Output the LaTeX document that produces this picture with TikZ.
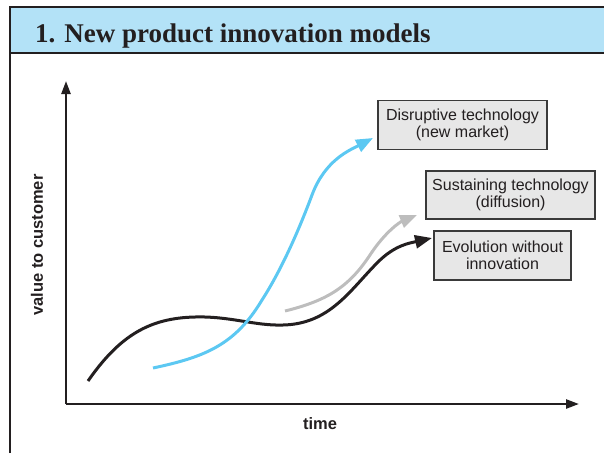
\documentclass[tikz,border=0pt]{standalone}
\usepackage{fontspec}
\setmainfont{Liberation Sans}
\newfontfamily\titlefont{Liberation Serif}
\usetikzlibrary{arrows.meta}
\definecolor{ink}{HTML}{231F20}
\definecolor{headblue}{HTML}{B3E2F7}
\definecolor{skyline}{HTML}{5CC8F2}
\definecolor{grayline}{HTML}{BDBDBD}
\definecolor{boxfill}{HTML}{E7E7E7}
\definecolor{boxline}{HTML}{3A3A3A}
\tikzset{
  labelbox/.style={draw=boxline, line width=1.1pt, fill=boxfill, inner sep=0pt, align=center,
    font=\fontsize{16}{17.5}\selectfont, text=ink},
  axisline/.style={draw=ink, line width=2.4pt, -{Triangle[length=13pt,width=9pt]}},
  curveline/.style={line width=3pt, -{Triangle[length=17pt,width=13pt]}},
  axislabel/.style={font=\bfseries\fontsize{16.5}{18}\selectfont, text=ink}
}
\begin{document}
\begin{tikzpicture}[x=1pt,y=-1pt]
\useasboundingbox (0,0) rectangle (604,453);
% frame and header
\fill[headblue] (10,7) rectangle (604,53);
\draw[ink, line width=2pt] (10,453) -- (10,7) -- (604,7);
\draw[ink, line width=2pt] (10,53) -- (604,53);
\node[anchor=base west, inner sep=0pt, text=ink, font=\titlefont\bfseries\fontsize{27}{30}\selectfont] (title) at (35,42) {1. New product innovation models};
% axes
\coordinate (origin) at (66,404);
\coordinate (ytop) at (66,81);
\coordinate (xend) at (579,404);
\draw[axisline] (origin) -- (ytop);
\draw[axisline] (origin) -- (xend);
\node[axislabel] (xlab) at (320,424) {time};
\node[axislabel, rotate=90] (ylab) at (37,245) {value to customer};
% boxes
\node[labelbox, minimum width=169pt, minimum height=49pt] (disr) at (462.5,125) {Disruptive technology\\(new market)};
\node[labelbox, minimum width=169pt, minimum height=48pt] (sust) at (510.5,195) {Sustaining technology\\(diffusion)};
\node[labelbox, minimum width=137pt, minimum height=49pt] (evol) at (502.5,255.5) {Evolution without\\innovation};
% curve endpoints
\coordinate (bstart) at (88,381);
\coordinate (bend) at (432,238);
\coordinate (gstart) at (285,311);
\coordinate (gend) at (417,215);
\coordinate (cstart) at (153,368);
\coordinate (cend) at (373,138);
% black: evolution
\draw[curveline, ink] (bstart) .. controls (120,335) and (150,318) .. (195,317)
  .. controls (230,316) and (255,326) .. (283,325)
  .. controls (330,324) and (350,290) .. (378,262)
  .. controls (395,245) and (410,243) .. (bend);
% gray: sustaining
\draw[curveline, grayline] (gstart) .. controls (330,300) and (350,285) .. (370,255)
  .. controls (385,232) and (400,222) .. (gend);
% blue: disruptive
\draw[curveline, skyline] (cstart) .. controls (205,357) and (235,345) .. (262,300)
  .. controls (280,272) and (297,235) .. (312,195)
  .. controls (325,160) and (350,150) .. (cend);
\end{tikzpicture}
\end{document}
